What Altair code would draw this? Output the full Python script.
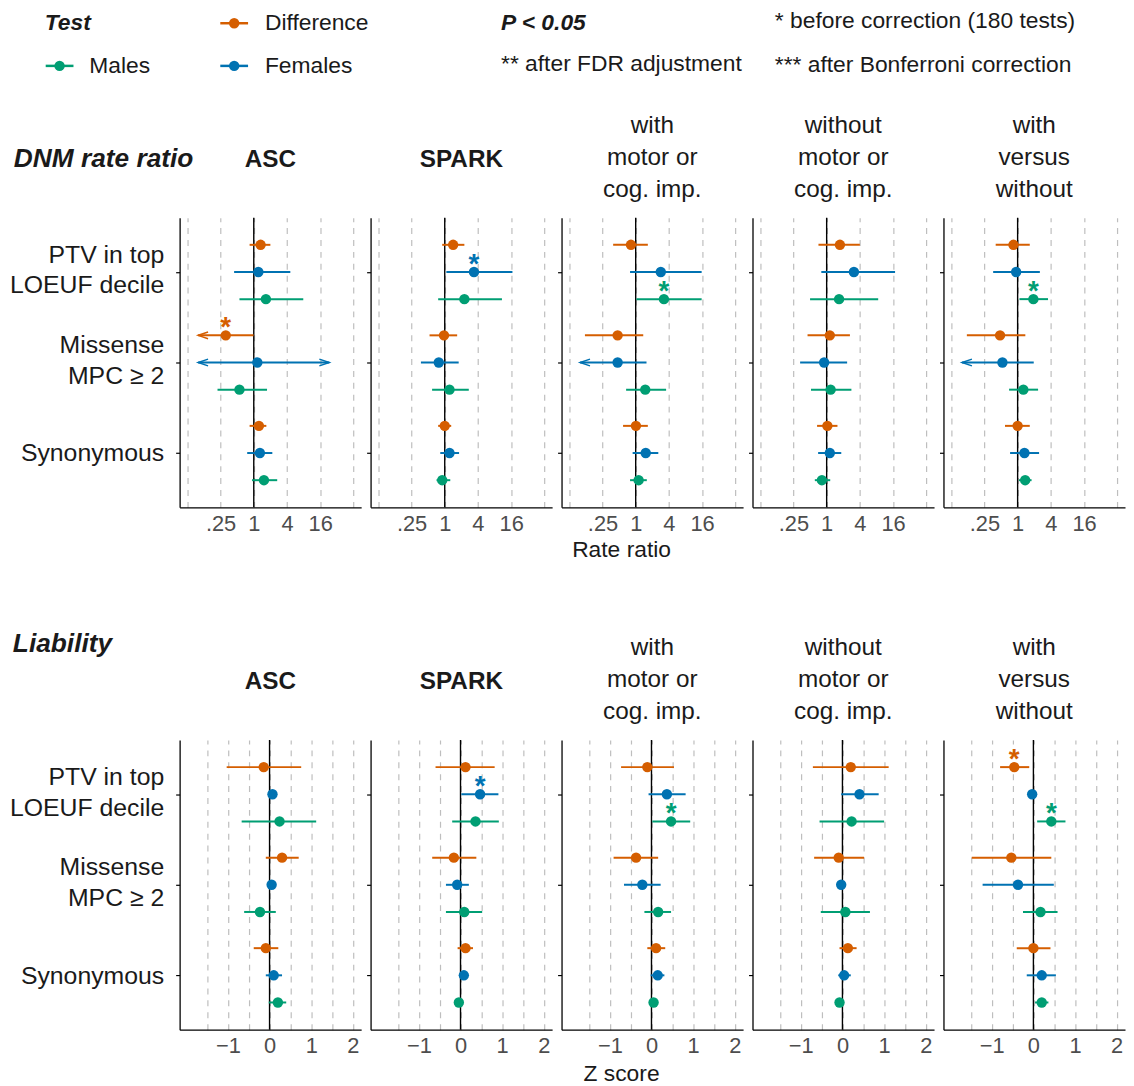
import json
import altair as alt
import pandas as pd

FONT = "Liberation Sans"
INK = "#1A1A1A"
TICK_GRAY = "#4D4D4D"

# ---------------- data ----------------
tests = ["Difference", "Females", "Males"]
test_colors = ["#D55E00", "#0072B2", "#009E73"]
variant_labels = [["PTV in top", "LOEUF decile"], ["Missense", "MPC ≥ 2"], ["Synonymous"]]
cohorts = ["ASC", "SPARK", "with motor or cog. imp.", "without motor or cog. imp.", "with versus without"]
cohort_titles = [["ASC"], ["SPARK"], ["with", "motor or", "cog. imp."],
                 ["without", "motor or", "cog. imp."], ["with", "versus", "without"]]
cohort_bold = [True, True, False, False, False]
row_titles = ["DNM rate ratio", "Liability"]
x_titles = ["Rate ratio", "Z score"]

# order in each list: PTV (Diff, Fem, Males), Missense (Diff, Fem, Males), Synonymous (Diff, Fem, Males)
rr_est = {
    "ASC":   [1.33, 1.21, 1.66, 0.31, 1.16, 0.55, 1.24, 1.29, 1.53],
    "SPARK": [1.42, 3.39, 2.27, 0.97, 0.78, 1.22, 1.00, 1.22, 0.90],
    "with motor or cog. imp.":    [0.82, 2.85, 3.25, 0.47, 0.47, 1.49, 1.01, 1.52, 1.13],
    "without motor or cog. imp.": [1.74, 3.12, 1.68, 1.14, 0.90, 1.18, 1.03, 1.14, 0.82],
    "with versus without":        [0.84, 0.94, 1.93, 0.48, 0.53, 1.27, 1.00, 1.33, 1.37],
}
rr_lo = {
    "ASC":   [0.84, 0.44, 0.55, 0.098, 0.098, 0.22, 0.84, 0.76, 0.93],
    "SPARK": [0.90, 1.07, 0.76, 0.53, 0.37, 0.59, 0.76, 0.83, 0.71],
    "with motor or cog. imp.":    [0.39, 0.79, 1.03, 0.12, 0.098, 0.67, 0.59, 0.88, 0.79],
    "without motor or cog. imp.": [0.71, 0.80, 0.50, 0.45, 0.33, 0.52, 0.67, 0.70, 0.61],
    "with versus without":        [0.40, 0.36, 1.08, 0.12, 0.098, 0.70, 0.59, 0.73, 1.06],
}
rr_hi = {
    "ASC":   [2.00, 4.60, 7.90, 0.99, 23.4, 1.74, 1.69, 2.17, 2.66],
    "SPARK": [2.27, 16.9, 10.9, 1.68, 1.79, 2.73, 1.31, 1.82, 1.26],
    "with motor or cog. imp.":    [1.66, 15.7, 15.7, 1.37, 1.57, 3.56, 1.66, 2.57, 1.59],
    "without motor or cog. imp.": [4.00, 17.4, 8.60, 2.64, 2.35, 2.81, 1.57, 1.84, 1.16],
    "with versus without":        [1.66, 2.53, 3.56, 1.38, 1.96, 2.35, 1.66, 2.45, 1.79],
}
rr_lo_open = {
    "ASC":   [0, 0, 0, 1, 1, 0, 0, 0, 0],
    "SPARK": [0, 0, 0, 0, 0, 0, 0, 0, 0],
    "with motor or cog. imp.":    [0, 0, 0, 0, 1, 0, 0, 0, 0],
    "without motor or cog. imp.": [0, 0, 0, 0, 0, 0, 0, 0, 0],
    "with versus without":        [0, 0, 0, 0, 1, 0, 0, 0, 0],
}
rr_hi_open = {
    "ASC":   [0, 0, 0, 0, 1, 0, 0, 0, 0],
    "SPARK": [0, 0, 0, 0, 0, 0, 0, 0, 0],
    "with motor or cog. imp.":    [0, 0, 0, 0, 0, 0, 0, 0, 0],
    "without motor or cog. imp.": [0, 0, 0, 0, 0, 0, 0, 0, 0],
    "with versus without":        [0, 0, 0, 0, 0, 0, 0, 0, 0],
}
rr_sig = {
    "ASC":   ["", "", "", "*", "", "", "", "", ""],
    "SPARK": ["", "*", "", "", "", "", "", "", ""],
    "with motor or cog. imp.":    ["", "", "*", "", "", "", "", "", ""],
    "without motor or cog. imp.": ["", "", "", "", "", "", "", "", ""],
    "with versus without":        ["", "", "*", "", "", "", "", "", ""],
}

z_est = {
    "ASC":   [-0.14, 0.07, 0.24, 0.30, 0.05, -0.23, -0.09, 0.10, 0.20],
    "SPARK": [0.12, 0.47, 0.36, -0.16, -0.08, 0.09, 0.12, 0.08, -0.04],
    "with motor or cog. imp.":    [-0.10, 0.37, 0.47, -0.37, -0.22, 0.16, 0.11, 0.15, 0.05],
    "without motor or cog. imp.": [0.20, 0.41, 0.22, -0.09, -0.03, 0.07, 0.13, 0.04, -0.07],
    "with versus without":        [-0.46, -0.03, 0.43, -0.53, -0.37, 0.17, 0.00, 0.20, 0.20],
}
z_lo = {
    "ASC":   [-1.03, -0.02, -0.67, -0.09, -0.03, -0.61, -0.38, -0.09, -0.02],
    "SPARK": [-0.60, 0.02, -0.20, -0.68, -0.35, -0.35, -0.07, 0.00, -0.10],
    "with motor or cog. imp.":    [-0.73, -0.07, 0.02, -0.91, -0.66, -0.17, -0.10, -0.02, -0.03],
    "without motor or cog. imp.": [-0.71, -0.03, -0.55, -0.68, -0.11, -0.52, -0.07, -0.10, -0.13],
    "with versus without":        [-0.80, -0.10, 0.09, -1.48, -1.22, -0.25, -0.40, -0.16, 0.04],
}
z_hi = {
    "ASC":   [0.76, 0.16, 1.12, 0.70, 0.13, 0.15, 0.21, 0.30, 0.40],
    "SPARK": [0.82, 0.91, 0.92, 0.38, 0.20, 0.52, 0.30, 0.16, 0.02],
    "with motor or cog. imp.":    [0.54, 0.82, 0.93, 0.16, 0.22, 0.47, 0.33, 0.31, 0.13],
    "without motor or cog. imp.": [1.11, 0.87, 1.00, 0.52, 0.05, 0.66, 0.34, 0.20, -0.01],
    "with versus without":        [-0.10, 0.04, 0.77, 0.43, 0.49, 0.58, 0.41, 0.54, 0.36],
}
z_sig = {
    "ASC":   ["", "", "", "", "", "", "", "", ""],
    "SPARK": ["", "*", "", "", "", "", "", "", ""],
    "with motor or cog. imp.":    ["", "", "*", "", "", "", "", "", ""],
    "without motor or cog. imp.": ["", "", "", "", "", "", "", "", ""],
    "with versus without":        ["*", "", "*", "", "", "", "", "", ""],
}

rr_grid = [0.0625, 0.25, 1, 4, 16, 64]
rr_tick_values = [0.25, 1, 4, 16]
rr_tick_labels = [".25", "1", "4", "16"]
z_grid = [-1.5, -1, -0.5, 0, 0.5, 1, 1.5, 2]
z_tick_values = [-1, 0, 1, 2]
z_tick_labels = ["\u22121", "0", "1", "2"]

legend_titles = ["Test", "P < 0.05"]
legend_notes = ["* before correction (180 tests)", "** after FDR adjustment", "*** after Bonferroni correction"]


def build(est, lo, hi, sig, lo_open=None, hi_open=None):
    rows = []
    for c in cohorts:
        for k in range(9):
            rows.append(dict(
                cohort=c, cat_i=k // 3, test_i=k % 3, test=tests[k % 3],
                est=est[c][k], lo=lo[c][k], hi=hi[c][k], sig=sig[c][k],
                lo_open=(lo_open[c][k] if lo_open else 0),
                hi_open=(hi_open[c][k] if hi_open else 0),
            ))
    return pd.DataFrame(rows)


df_rr = build(rr_est, rr_lo, rr_hi, rr_sig, rr_lo_open, rr_hi_open)
df_z = build(z_est, z_lo, z_hi, z_sig)

# ---------------- styling / layout ----------------
PW, PH = 183, 292
COLOR_SCALE = alt.Scale(domain=tests, range=test_colors)
Y_SCALE = alt.Scale(domain=[-0.6, 2.6], reverse=True, nice=False, zero=False)
RR_SCALE = alt.Scale(type="log", base=2, domain=[0.0452, 88.6], nice=False, zero=False)
Z_SCALE = alt.Scale(domain=[-2.16, 2.2], nice=False, zero=False)

LEFT_ARROW = "M1,-0.34L0,0L1,0.34"
RIGHT_ARROW = "M-1,-0.34L0,0L-1,0.34"


def label_expr(vals, labs):
    expr = "''"
    for v, l in reversed(list(zip(vals, labs))):
        expr = f"datum.value == {v} ? {json.dumps(l)} : {expr}"
    return expr


Y_LABEL_EXPR = label_expr([0, 1, 2], variant_labels)
# two-line labels are shifted up so that they sit centred on their tick
two_line = [i for i, lab in enumerate(variant_labels) if len(lab) == 2]
Y_LABEL_OFFSET = {
    "condition": {"test": " || ".join(f"datum.value == {i}" for i in two_line), "value": -18},
    "value": 0,
}


def x_axis(kind, row, show_title):
    grid = rr_grid if kind == "rr" else z_grid
    tv = rr_tick_values if kind == "rr" else z_tick_values
    tl = rr_tick_labels if kind == "rr" else z_tick_labels
    kw = dict(
        values=grid, labelExpr=label_expr(tv, tl), grid=True, gridDash=[6, 6],
        gridColor="#BEBEBE", gridWidth=1.2, ticks=False, tickSize=0,
        domainColor="black", domainWidth=1.3, labelFontSize=22, labelColor=TICK_GRAY,
        labelPadding=6, labelFont=FONT, labelFlush=False, labelOverlap=False,
    )
    if show_title:
        kw.update(title=x_titles[row], titleFontSize=23, titleFontWeight="normal",
                  titleColor=INK, titleFont=FONT, titleX=60,
                  titleY=(43 if row == 0 else 44), titleBaseline="middle", titleAlign="center")
    else:
        kw.update(title=None)
    return alt.Axis(**kw)


def y_axis(first):
    kw = dict(values=[0, 1, 2], grid=False, ticks=True, tickSize=4, tickColor="black",
              tickWidth=1.2, domainColor="black", domainWidth=1.3, title=None)
    if first:
        kw.update(labelExpr=Y_LABEL_EXPR, labelFontSize=25, labelColor=INK, labelFont=FONT,
                  labelLineHeight=31, labelPadding=12, labelAlign="right", labelBaseline="middle",
                  labelOffset=Y_LABEL_OFFSET)
    else:
        kw.update(labels=False)
    return alt.Axis(**kw)


def panel(df, row, j):
    kind = "rr" if row == 0 else "z"
    d = df[df.cohort == cohorts[j]]
    xs = RR_SCALE if kind == "rr" else Z_SCALE
    xa = x_axis(kind, row, j == 2)
    ya = y_axis(j == 0)

    def X(f):
        return alt.X(f, type="quantitative", scale=xs, axis=xa)

    Y = alt.Y("ypos:Q", scale=Y_SCALE, axis=ya)
    C = alt.Color("test:N", scale=COLOR_SCALE, legend=None)
    base = alt.Chart(d).transform_calculate(ypos="datum.cat_i + (datum.test_i - 1) * 0.3")

    ref = alt.Chart(pd.DataFrame({"ref": [1 if kind == "rr" else 0]})).mark_rule(
        color="black", strokeWidth=1.4).encode(x=X("ref"))
    bars = base.mark_rule(strokeWidth=2).encode(x=X("lo"), x2="hi", y=Y, color=C)
    pts = base.mark_circle(size=110, opacity=1).encode(x=X("est"), y=Y, color=C)
    arr_lo = base.transform_filter("datum.lo_open == 1").mark_point(
        shape=LEFT_ARROW, size=400, filled=False, strokeWidth=1.5, opacity=1
    ).encode(x=X("lo"), y=Y, color=C)
    arr_hi = base.transform_filter("datum.hi_open == 1").mark_point(
        shape=RIGHT_ARROW, size=400, filled=False, strokeWidth=1.5, opacity=1
    ).encode(x=X("hi"), y=Y, color=C)
    stars = base.transform_filter("datum.sig != ''").mark_text(
        fontSize=28, fontWeight="bold", baseline="alphabetic", dy=1, font=FONT
    ).encode(x=X("est"), y=Y, color=C, text="sig:N")

    bold = cohort_bold[j]
    title = alt.TitleParams(
        text=cohort_titles[j], fontSize=24.5, fontWeight=("bold" if bold else "normal"),
        lineHeight=32, offset=(21 if bold else -9), anchor="middle", frame="group",
        color=INK, font=FONT, baseline="bottom",
    )
    return alt.layer(ref, bars, pts, arr_lo, arr_hi, stars).properties(
        width=PW, height=PH, title=title)


def row_title(i):
    return alt.TitleParams(
        text=row_titles[i], fontSize=26.5, fontWeight="bold", fontStyle="italic",
        color=INK, font=FONT, anchor="start", frame="bounds", baseline="bottom",
        offset=(-87.5 if i == 0 else -49.5), dx=(5 if i == 0 else 4),
    )


row1 = alt.hconcat(*[panel(df_rr, 0, j) for j in range(5)], spacing=2.5, title=row_title(0))
row2 = alt.hconcat(*[panel(df_z, 1, j) for j in range(5)], spacing=2.5, title=row_title(1))

# ---------------- legend (manual, page coordinates) ----------------
LEG_X0, LEG_W = 181, 940
LEG_Y0, LEG_H = 8, 76
LX = alt.Scale(domain=[LEG_X0, LEG_X0 + LEG_W], nice=False, zero=False)
LY = alt.Scale(domain=[LEG_Y0, LEG_Y0 + LEG_H], reverse=True, nice=False, zero=False)

leg_keys = pd.DataFrame({"test": ["Males", "Difference", "Females"],
                         "kx": [60, 236, 236], "ky": [62, 19, 62]})
leg_head = pd.DataFrame({"text": legend_titles, "kx": [45, 505], "ky": [19, 19]})
leg_text = pd.DataFrame({
    "text": ["Males", "Difference", "Females"] + legend_notes,
    "kx": [90, 267, 267, 781, 505, 781],
    "ky": [62, 19, 62, 17, 60, 61],
})
LC = alt.Color("test:N", scale=COLOR_SCALE, legend=None)
lxe = alt.X("kx:Q", scale=LX, axis=None)
lye = alt.Y("ky:Q", scale=LY, axis=None)

leg_lines = alt.Chart(leg_keys).transform_calculate(
    x0="datum.kx - 14", x1="datum.kx + 14"
).mark_rule(strokeWidth=2.5).encode(
    x=alt.X("x0:Q", scale=LX, axis=None), x2="x1:Q", y=lye, color=LC)
leg_dots = alt.Chart(leg_keys).mark_circle(size=110, opacity=1).encode(x=lxe, y=lye, color=LC)
leg_h = alt.Chart(leg_head).mark_text(
    align="left", baseline="middle", fontSize=23, fontWeight="bold", fontStyle="italic",
    font=FONT, color=INK).encode(x=lxe, y=lye, text="text:N")
leg_t = alt.Chart(leg_text).mark_text(
    align="left", baseline="middle", fontSize=23, font=FONT, color=INK
).encode(x=lxe, y=lye, text="text:N")
legend = alt.layer(leg_lines, leg_dots, leg_h, leg_t).properties(width=LEG_W, height=LEG_H)

body = alt.vconcat(row1, row2, spacing=68.5)
chart = alt.vconcat(
    legend, body, spacing=24, padding={"top": -3, "left": 0, "right": 0, "bottom": 0}
).configure(font=FONT).configure_view(stroke="transparent")

chart.save("out.html", embed_options={"renderer": "svg", "actions": False})
